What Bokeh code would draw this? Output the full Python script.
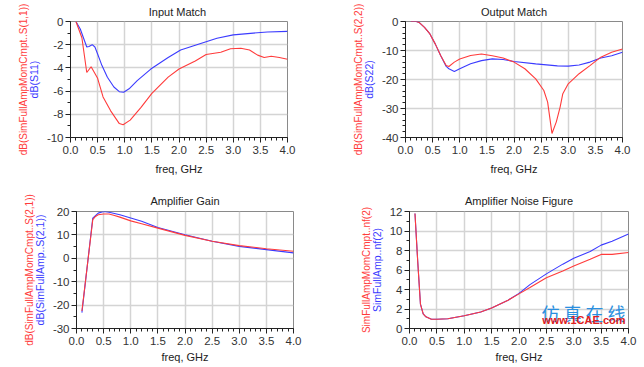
from bokeh.plotting import figure
from bokeh.models import Label, FixedTicker, Range1d, LinearAxis
from bokeh.layouts import column, row
from bokeh.embed import file_html
from bokeh.resources import INLINE

RED = "#ff3b3b"
BLUE = "#3b3bff"
FONT = "Liberation Sans"

# ---- Input Match (dB S11) ----
im_f_red = [0.1, 0.21, 0.3, 0.38, 0.44, 0.5, 0.55, 0.6, 0.74, 0.9, 0.97, 1.1, 1.3, 1.5, 1.8, 2.0, 2.3, 2.5, 2.77, 2.95, 3.14, 3.3, 3.45, 3.57, 3.7, 3.85, 4.0]
im_red = [0.0, -1.4, -4.4, -3.9, -4.4, -4.9, -5.7, -6.5, -7.7, -8.8, -8.9, -8.5, -7.4, -6.2, -4.8, -4.1, -3.4, -2.85, -2.65, -2.35, -2.3, -2.45, -2.9, -3.1, -3.0, -3.1, -3.25]
im_f_blue = [0.1, 0.18, 0.3, 0.34, 0.4, 0.45, 0.5, 0.58, 0.68, 0.8, 0.9, 0.98, 1.08, 1.23, 1.48, 1.8, 2.03, 2.4, 2.7, 3.0, 3.37, 3.63, 4.0]
im_blue = [0.0, -0.65, -2.2, -2.15, -2.0, -2.2, -2.8, -3.8, -4.8, -5.65, -6.05, -6.1, -5.8, -5.1, -4.1, -3.1, -2.45, -1.9, -1.45, -1.15, -1.0, -0.9, -0.85]

# ---- Output Match (dB S22) ----
om_f_red = [0.1, 0.2, 0.25, 0.35, 0.45, 0.55, 0.65, 0.75, 0.8, 0.9, 1.0, 1.2, 1.4, 1.6, 1.8, 2.0, 2.2, 2.4, 2.55, 2.62, 2.7, 2.78, 2.85, 2.9, 3.0, 3.2, 3.4, 3.6, 3.8, 4.0]
om_red = [0.0, 0.0, -0.3, -2.0, -4.3, -7.8, -11.8, -15.2, -15.5, -14.0, -12.9, -11.7, -11.2, -11.8, -12.6, -14.0, -16.3, -19.8, -23.8, -27.8, -38.6, -34.6, -29.5, -24.9, -21.5, -18.0, -15.2, -12.3, -10.6, -9.5]
om_f_blue = [0.1, 0.2, 0.25, 0.35, 0.45, 0.55, 0.65, 0.75, 0.8, 0.9, 1.0, 1.2, 1.4, 1.6, 1.8, 2.0, 2.4, 2.8, 3.0, 3.2, 3.4, 3.6, 3.8, 4.0]
om_blue = [0.0, 0.0, -0.3, -2.0, -4.3, -7.8, -11.8, -15.5, -16.3, -17.2, -16.3, -14.6, -13.5, -12.9, -13.1, -13.8, -14.6, -15.3, -15.4, -15.0, -14.0, -12.6, -11.8, -10.6]

# ---- Amplifier Gain (dB S21) ----
g_f_red = [0.1, 0.2, 0.3, 0.35, 0.4, 0.5, 0.6, 0.7, 0.8, 1.0, 1.2, 1.5, 2.0, 2.5, 3.0, 3.5, 4.0]
g_red = [-22.5, -3.0, 16.5, 17.9, 18.6, 18.9, 18.9, 18.3, 17.6, 16.0, 14.8, 12.9, 9.8, 7.3, 5.4, 4.1, 3.0]
g_f_blue = [0.1, 0.2, 0.3, 0.4, 0.5, 0.6, 0.8, 1.0, 1.2, 1.5, 2.0, 2.5, 3.0, 3.5, 4.0]
g_blue = [-23.2, -3.0, 17.2, 19.3, 20.0, 19.7, 18.6, 17.2, 15.8, 13.2, 10.1, 7.3, 5.1, 3.7, 2.3]

# ---- Amplifier Noise Figure (nf(2)) ----
nf_f_red = [0.1, 0.15, 0.2, 0.25, 0.3, 0.4, 0.5, 0.7, 1.0, 1.3, 1.5, 1.8, 2.0, 2.2, 2.5, 2.8, 3.0, 3.3, 3.5, 3.7, 4.0]
nf_red = [11.8, 6.9, 2.5, 1.5, 1.2, 0.95, 0.95, 1.0, 1.3, 1.7, 2.1, 2.9, 3.55, 4.2, 5.2, 5.9, 6.4, 7.1, 7.6, 7.6, 7.8]
nf_f_blue = [0.1, 0.15, 0.2, 0.25, 0.3, 0.4, 0.5, 0.7, 1.0, 1.3, 1.5, 1.8, 2.0, 2.2, 2.5, 2.8, 3.0, 3.3, 3.5, 3.7, 4.0]
nf_blue = [11.8, 6.9, 2.5, 1.5, 1.2, 0.95, 0.95, 1.0, 1.3, 1.7, 2.1, 2.9, 3.6, 4.5, 5.6, 6.6, 7.2, 7.9, 8.55, 8.95, 9.7]

x_ticks = [0.0, 0.5, 1.0, 1.5, 2.0, 2.5, 3.0, 3.5, 4.0]
x_minor = [i / 10 for i in range(0, 41)]


def style_axis(ax):
    ax.axis_line_color = "#222222"
    ax.major_tick_line_color = "#222222"
    ax.minor_tick_line_color = "#222222"
    ax.major_tick_in = 0
    ax.major_tick_out = 5
    ax.minor_tick_in = 0
    ax.minor_tick_out = 3
    ax.major_label_text_font = FONT
    ax.major_label_text_font_size = "11.5px"
    ax.major_label_text_color = "#333333"
    ax.axis_label_text_font = FONT
    ax.axis_label_text_font_size = "11px"
    ax.axis_label_text_font_style = "normal"


def make(title, xs_r, ys_r, xs_b, ys_b, y_range, y_ticks, y_minor, red_label, blue_label,
         fw, fh, bl, br, bt, bb, title_standoff, xlabel_standoff):
    p = figure(width=bl + fw + br, height=bt + fh + bb, frame_width=fw, frame_height=fh,
               min_border_left=bl, min_border_right=br, min_border_top=bt, min_border_bottom=bb,
               x_range=Range1d(0, 4), y_range=Range1d(*y_range),
               output_backend="svg", toolbar_location=None)
    p.outline_line_color = "#8a8a8a"
    p.outline_line_width = 1
    p.background_fill_color = "white"
    p.border_fill_color = "white"

    p.title.text = title
    p.title.align = "center"
    p.title.text_font = FONT
    p.title.text_font_size = "11px"
    p.title.text_font_style = "normal"
    p.title.text_color = "#222222"
    p.title.standoff = title_standoff

    p.xaxis.ticker = FixedTicker(ticks=x_ticks, minor_ticks=x_minor)
    p.yaxis.ticker = FixedTicker(ticks=y_ticks, minor_ticks=y_minor)
    p.xaxis.major_label_overrides = {t: f"{t:.1f}" for t in x_ticks}
    p.yaxis.major_label_overrides = {t: f"{t:g}" for t in y_ticks}
    style_axis(p.xaxis[0])
    style_axis(p.yaxis[0])
    p.xaxis.major_label_standoff = 3
    p.yaxis.major_label_standoff = 2
    p.xaxis.axis_label = "freq, GHz"
    p.xaxis.axis_label_text_color = "#222222"
    p.xaxis.axis_label_standoff = xlabel_standoff

    # inner y label (blue) on the main axis, outer y label (red) on an extra axis
    p.yaxis.axis_label = blue_label
    p.yaxis.axis_label_text_color = BLUE
    p.yaxis.axis_label_text_font_size = "10.5px"
    p.yaxis.axis_label_standoff = 4
    outer = LinearAxis(ticker=FixedTicker(ticks=[]), axis_label=red_label)
    outer.axis_line_color = None
    outer.major_tick_line_color = None
    outer.minor_tick_line_color = None
    outer.major_tick_out = 0
    outer.minor_tick_out = 0
    outer.major_label_text_font_size = "0px"
    outer.major_label_standoff = 0
    outer.axis_label_standoff = -4
    outer.axis_label_text_font = FONT
    outer.axis_label_text_font_size = "10px"
    outer.axis_label_text_font_style = "normal"
    outer.axis_label_text_color = RED
    p.add_layout(outer, "left")

    p.xgrid.ticker = FixedTicker(ticks=x_ticks)
    p.ygrid.ticker = FixedTicker(ticks=y_ticks)
    p.xgrid.grid_line_color = "#d4d4d4"
    p.ygrid.grid_line_color = "#d4d4d4"
    p.xgrid.grid_line_width = 1.5
    p.ygrid.grid_line_width = 1.5

    p.line(xs_b, ys_b, line_color=BLUE, line_width=1.1)
    p.line(xs_r, ys_r, line_color=RED, line_width=1.1)
    return p


p1 = make("Input  Match", im_f_red, im_red, im_f_blue, im_blue, (-10, 0),
          [0, -2, -4, -6, -8, -10], list(range(-10, 1)),
          "dB(SimFullAmpMomCmpt..S(1,1))", "dB(S11)",
          217, 116, 70, 38, 21, 49, 7, 6)
p2 = make("Output Match", om_f_red, om_red, om_f_blue, om_blue, (-40, 0),
          [0, -10, -20, -30, -40], list(range(-40, 1, 2)),
          "dB(SimFullAmpMomCmpt..S(2,2))", "dB(S22)",
          217, 116, 80, 22, 21, 49, 7, 6)
p3 = make("Amplifier Gain", g_f_red, g_red, g_f_blue, g_blue, (-30, 20),
          [20, 10, 0, -10, -20, -30], list(range(-30, 21, 5)),
          "dB(SimFullAmpMomCmpt..S(2,1))", "dB(SimFullAmp..S(2,1))",
          217, 117, 76, 32, 25, 37, 9, 3)
p4 = make("Amplifier Noise Figure", nf_f_red, nf_red, nf_f_blue, nf_blue, (0, 12),
          [0, 2, 4, 6, 8, 10, 12], list(range(0, 13)),
          "SimFullAmpMomCmpt..nf(2)", "SimFullAmp..nf(2)",
          219, 117, 84, 16, 25, 37, 9, 3)

# watermark text seen in the reference picture (kept inside the plot area)
p4.add_layout(Label(x=216, y=16, x_units="screen", y_units="screen", text="仿 真 在 线",
                    text_align="right", text_baseline="middle", text_font="Noto Sans CJK SC",
                    text_font_size="18px", text_color="#2a8fe0"))
p4.add_layout(Label(x=216, y=3, x_units="screen", y_units="screen", text="www.1CAE.com",
                    text_align="right", text_baseline="bottom", text_font=FONT,
                    text_font_style="bold", text_font_size="11px", text_color="#e02020"))

layout = column(row(p1, p2, spacing=0), row(p3, p4, spacing=0), spacing=0)
open("out.html", "w").write(file_html(layout, INLINE))
